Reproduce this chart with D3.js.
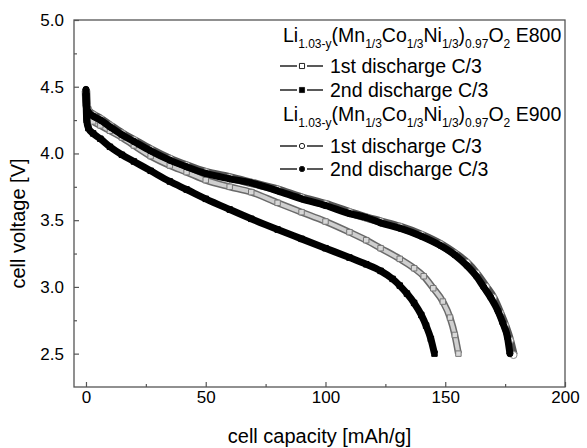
<!DOCTYPE html>
<html>
<head>
<meta charset="utf-8">
<script src="https://cdn.jsdelivr.net/npm/d3@7"></script>
<style>
body{margin:0;background:#fff;}
svg{font-family:"Liberation Sans",Arial,Helvetica,sans-serif;}
</style>
</head>
<body>
<svg id="chart"></svg>
<script>
// values: capacity [mAh/g] and voltage [V]
var capE800first = [0,0.3,1,3,6,10,15,20,27,35,42,50,60,69,80,90,100,110,117,123,131,137,141,145,149,152,154,155.5];
var voltE800first = [4.46,4.33,4.28,4.24,4.21,4.17,4.12,4.06,3.98,3.91,3.86,3.80,3.75,3.71,3.63,3.56,3.49,3.41,3.35,3.29,3.21,3.14,3.08,2.99,2.89,2.77,2.64,2.50];

var capE800second = [0,0.3,1,3,6,10,15,20,27,35,42,50,60,69,80,90,100,110,117,123,128,131,134,137,140,142,144,145.5];
var voltE800second = [4.45,4.25,4.19,4.15,4.11,4.05,3.99,3.94,3.87,3.79,3.73,3.66,3.58,3.51,3.43,3.36,3.29,3.22,3.17,3.12,3.06,3.01,2.95,2.88,2.79,2.71,2.61,2.50];

var capE900first = [0,0.3,1,3,6,10,15,20,27,35,42,50,60,69,80,90,100,110,117,123,131,140,148,154,159,163,167,170,173,175,177,178.5];
var voltE900first = [4.47,4.36,4.32,4.29,4.26,4.21,4.15,4.10,4.03,3.96,3.91,3.86,3.82,3.78,3.73,3.67,3.62,3.56,3.52,3.49,3.45,3.39,3.32,3.25,3.18,3.10,3.00,2.92,2.80,2.71,2.60,2.49];

var capE900second = [0,0.3,1,3,6,10,15,20,27,35,42,50,60,69,80,90,100,110,117,123,131,140,148,154,159,163,166,169,172,174,176,177];
var voltE900second = [4.48,4.35,4.31,4.28,4.25,4.20,4.14,4.09,4.02,3.95,3.90,3.85,3.81,3.78,3.72,3.66,3.61,3.55,3.52,3.48,3.44,3.38,3.31,3.24,3.16,3.08,3.00,2.92,2.82,2.73,2.62,2.50];

var xTicks = [0,50,100,150,200];
var xMinorTicks = [25,75,125,175];
var yTicks = [2.5,3.0,3.5,4.0,4.5,5.0];
var yMinorTicks = [2.75,3.25,3.75,4.25,4.75];

var legendSamples = ["E800","E900"];
var legendLabels = ["1st discharge C/3","2nd discharge C/3"];

var zip = function(caps,volts)
{
    return caps.map(function(c,i){return {cap:c,volt:volts[i]};});
}

//draws one discharge curve: a thick band with the markers on top
var drawSeries = function(points,style,target,xScale,yScale)
{
    var lineGenerator = d3.line()
        .curve(d3.curveMonotoneX)
        .x(function(d){return xScale(d.cap);})
        .y(function(d){return yScale(d.volt);});

    var g = target.append("g").classed("series",true);

    g.append("path")
        .datum(points)
        .attr("d",lineGenerator)
        .attr("fill","none")
        .attr("stroke",style.band)
        .attr("stroke-width",style.bandWidth)
        .attr("stroke-linejoin","round");

    if(style.inner)
    {
        g.append("path")
            .datum(points)
            .attr("d",lineGenerator)
            .attr("fill","none")
            .attr("stroke",style.inner)
            .attr("stroke-width",style.innerWidth)
            .attr("stroke-linejoin","round");
    }

    g.selectAll("path.marker")
        .data(points)
        .enter()
        .append("path")
        .classed("marker",true)
        .attr("d",d3.symbol().type(style.symbol).size(style.size))
        .attr("transform",function(d){return "translate("+xScale(d.cap)+","+yScale(d.volt)+")";})
        .attr("fill",style.fill)
        .attr("stroke",style.stroke)
        .attr("stroke-width",1);
}

var drawAxes = function(graph,margins,xScale,yScale)
{
    var svg = d3.select("#chart");

    var xAxis = d3.axisBottom(xScale).tickValues(xTicks).tickSize(-5).tickPadding(4)
        .tickFormat(d3.format("d"));
    var xMinor = d3.axisBottom(xScale).tickValues(xMinorTicks).tickSize(-3).tickFormat("");
    var yAxis = d3.axisLeft(yScale).tickValues(yTicks).tickSize(-5).tickPadding(10)
        .tickFormat(d3.format(".1f"));
    var yMinor = d3.axisLeft(yScale).tickValues(yMinorTicks).tickSize(-3).tickFormat("");

    var xPos = "translate("+margins.left+","+(margins.top+graph.height)+")";
    var yPos = "translate("+margins.left+","+margins.top+")";

    svg.append("g").attr("transform",xPos).call(xAxis);
    svg.append("g").attr("transform",xPos).call(xMinor);
    svg.append("g").attr("transform",yPos).call(yAxis);
    svg.append("g").attr("transform",yPos).call(yMinor);

    svg.selectAll(".domain").remove();
    svg.selectAll(".tick line").attr("stroke","#555").attr("stroke-width",1.2);
    svg.selectAll(".tick text").attr("fill","#000").style("font-size","17px");

    svg.append("rect")
        .attr("x",margins.left)
        .attr("y",margins.top)
        .attr("width",graph.width)
        .attr("height",graph.height)
        .attr("fill","none")
        .attr("stroke","#555")
        .attr("stroke-width",1.3);
}

var drawLabels = function(graph,margins)
{
    var labels = d3.select("#chart").append("g").classed("labels",true);

    labels.append("text")
        .text("cell capacity [mAh/g]")
        .attr("text-anchor","middle")
        .attr("x",margins.left+graph.width/2)
        .attr("y",443)
        .style("font-size","20px")
        .attr("fill","#000");

    labels.append("text")
        .text("cell voltage [V]")
        .attr("text-anchor","middle")
        .attr("transform","translate(25,"+(margins.top+graph.height/2+20)+") rotate(-90)")
        .style("font-size","20px")
        .attr("fill","#000");
}

var writeFormula = function(target,x,y,sample)
{
    var parts = [["Li",0],["1.03-y",1],["(Mn",0],["1/3",1],["Co",0],["1/3",1],["Ni",0],["1/3",1],
                 [")",0],["0.97",1],["O",0],["2",1],[" "+sample,0]];
    var t = target.append("text")
        .attr("x",x).attr("y",y)
        .attr("fill","#000")
        .style("font-size","19.5px");
    var prev = 0;
    parts.forEach(function(p)
    {
        var dy = (p[1]-prev)*6;
        prev = p[1];
        t.append("tspan")
            .text(p[0])
            .attr("dy",dy)
            .style("font-size",p[1] ? "12px" : "19.5px");
    });
}

var drawLegend = function()
{
    var legend = d3.select("#chart").append("g").classed("legend",true);
    var rows = [
        {type:"title",sample:legendSamples[0],y:42},
        {type:"entry",label:legendLabels[0],y:73,symbol:d3.symbolSquare,size:26,fill:"#fff"},
        {type:"entry",label:legendLabels[1],y:97,symbol:d3.symbolSquare,size:26,fill:"#000"},
        {type:"title",sample:legendSamples[1],y:121},
        {type:"entry",label:legendLabels[0],y:153,symbol:d3.symbolCircle,size:22,fill:"#fff"},
        {type:"entry",label:legendLabels[1],y:176,symbol:d3.symbolCircle,size:22,fill:"#000"}
    ];
    rows.forEach(function(r)
    {
        if(r.type=="title")
        {
            writeFormula(legend,283,r.y,r.sample);
            return;
        }
        var ly = r.y-7;
        legend.append("line").attr("x1",280).attr("x2",297).attr("y1",ly).attr("y2",ly)
            .attr("stroke","#222").attr("stroke-width",1.5);
        legend.append("line").attr("x1",307).attr("x2",323).attr("y1",ly).attr("y2",ly)
            .attr("stroke","#222").attr("stroke-width",1.5);
        legend.append("path")
            .attr("d",d3.symbol().type(r.symbol).size(r.size))
            .attr("transform","translate(302,"+ly+")")
            .attr("fill",r.fill)
            .attr("stroke","#222")
            .attr("stroke-width",1);
        legend.append("text")
            .text(r.label)
            .attr("x",330).attr("y",r.y)
            .attr("fill","#000")
            .style("font-size","19.5px");
    });
}

var initGraph = function()
{
    var screen = {width:587,height:448};
    var margins = {left:74,right:22,top:20,bottom:61};
    var graph =
        {
            width:screen.width-margins.left-margins.right,
            height:screen.height-margins.top-margins.bottom
        };

    d3.select("#chart")
        .attr("width",screen.width)
        .attr("height",screen.height);

    var xScale = d3.scaleLinear()
        .domain([-5,200])
        .range([0,graph.width]);

    var yScale = d3.scaleLinear()
        .domain([2.25,5])
        .range([graph.height,0]);

    var target = d3.select("#chart")
        .append("g")
        .attr("id","graph")
        .attr("transform","translate("+margins.left+","+margins.top+")");

    drawSeries(zip(capE800first,voltE800first),
        {band:"#6a6a6a",bandWidth:7,inner:"#cfcfcf",innerWidth:4,symbol:d3.symbolSquare,size:30,fill:"#d8d8d8",stroke:"#777"},
        target,xScale,yScale);
    drawSeries(zip(capE900first,voltE900first),
        {band:"#555",bandWidth:8.5,symbol:d3.symbolCircle,size:40,fill:"#fff",stroke:"#888"},
        target,xScale,yScale);
    drawSeries(zip(capE900second,voltE900second),
        {band:"#000",bandWidth:7,symbol:d3.symbolCircle,size:30,fill:"#000",stroke:"#000"},
        target,xScale,yScale);
    drawSeries(zip(capE800second,voltE800second),
        {band:"#000",bandWidth:7,symbol:d3.symbolSquare,size:30,fill:"#000",stroke:"#000"},
        target,xScale,yScale);

    drawAxes(graph,margins,xScale,yScale);
    drawLabels(graph,margins);
    drawLegend();
}

initGraph();
</script>
</body>
</html>
